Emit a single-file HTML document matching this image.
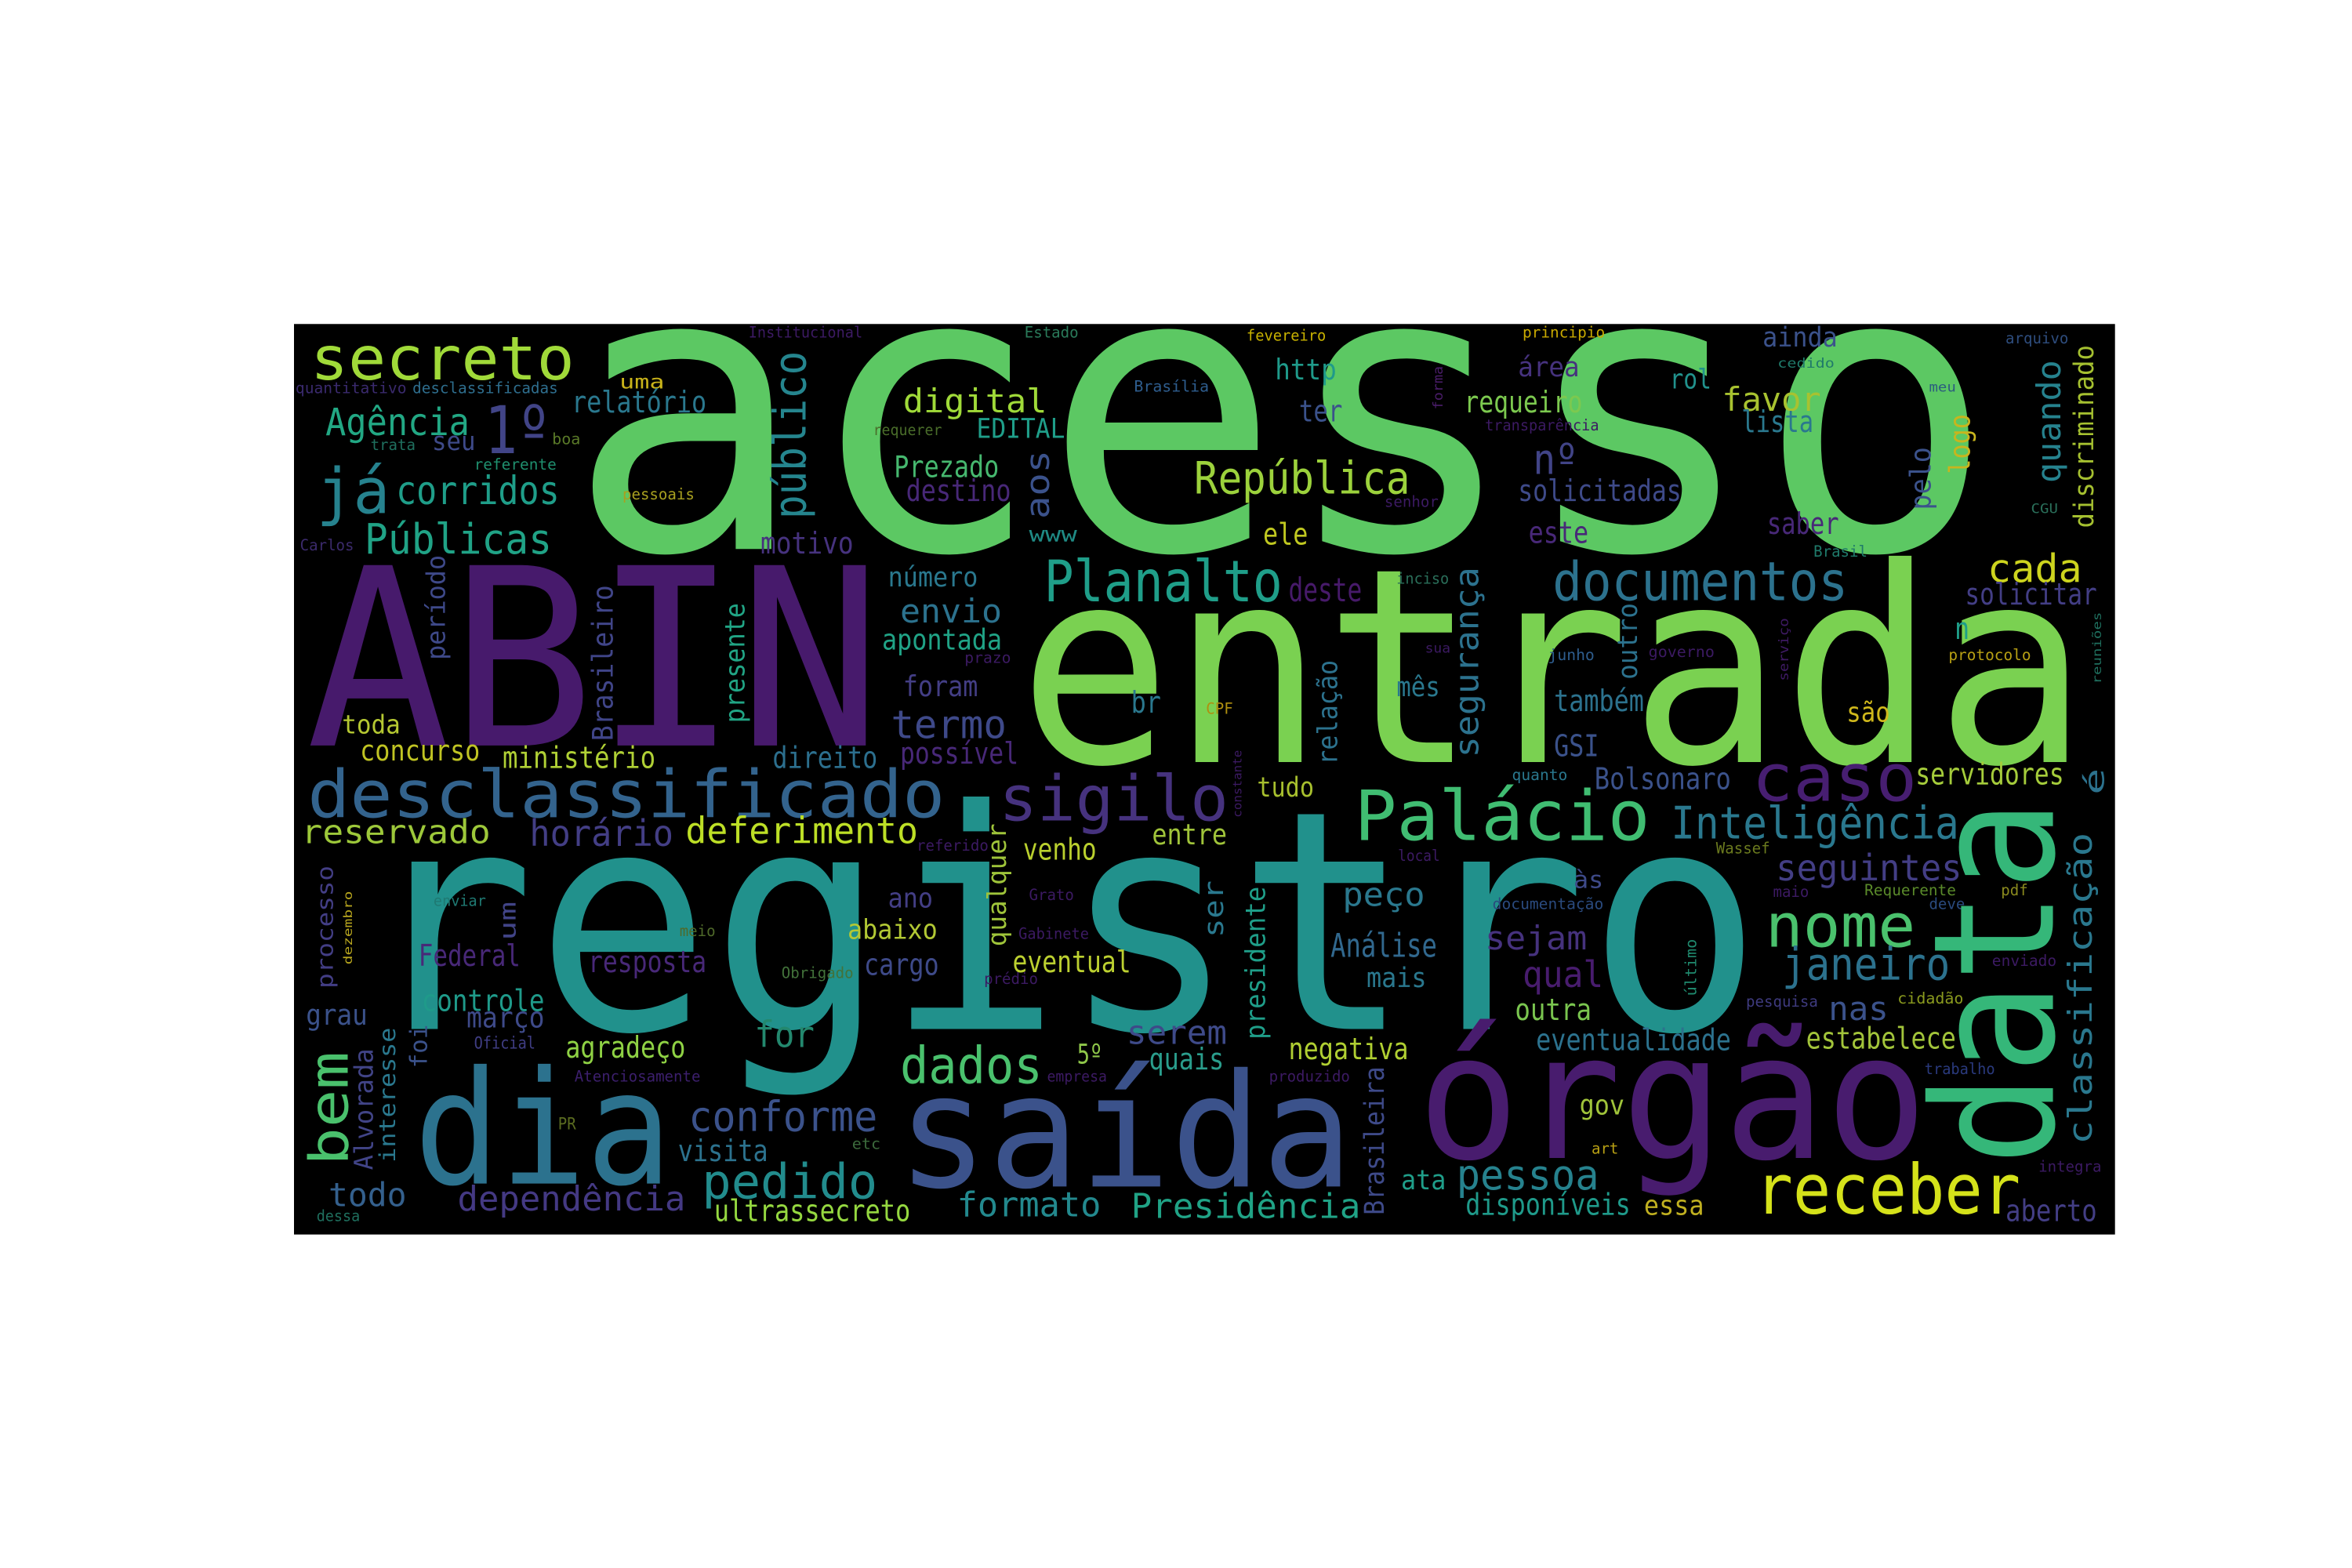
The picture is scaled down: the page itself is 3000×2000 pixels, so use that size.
<!DOCTYPE html>
<html><head><meta charset="utf-8">
<style>
html,body{margin:0;padding:0;background:#fff;}
svg{display:block;}
text{font-family:"DejaVu Sans Mono","Liberation Mono",monospace;}
</style></head>
<body>
<svg id="cloud" width="3000" height="2000" viewBox="0 0 1568 1045.33" xmlns="http://www.w3.org/2000/svg">
<rect x="196" y="216" width="1214" height="607" fill="#000"/>
<g id="words"></g>
</svg>
<script>
// horizontal words: [text, x, baselineY, fontSize, width, color]
const hWords = [
["acesso",378,366,262,952,"#5cc863"],
["ABIN",204,497,165,384,"#471a6c"],
["entrada",679,508,181,713,"#7ad151"],
["registro",240,686,204,935,"#21918c"],
["órgão",945,772,116,340,"#481c6e"],
["dia",276,789,105,172,"#2c728e"],
["saída",598,791,105,304,"#3b528b"],
["secreto",207,253,40,176,"#a0da39"],
["quantitativo",197,262,10,74,"#3a2a6e"],
["desclassificadas",275,262,10,97,"#2e6e8e"],
["uma",413,259,13,30,"#c8b31a"],
["1º",323,302,44,44,"#414487"],
["relatório",381,275,20,90,"#2a788e"],
["Agência",217,290,25,96,"#22a884"],
["seu",288,300,17,29,"#3e4a89"],
["boa",368,296,10,19,"#5a7a28"],
["trata",247,300,10,30,"#1f6f5e"],
["referente",316,313,10,55,"#1f8f6e"],
["já",211,342,42,49,"#26828e"],
["corridos",264,336,26,109,"#1f9e89"],
["pessoais",415,333,10,48,"#a8a020"],
["Públicas",243,369,28,125,"#20a386"],
["Carlos",200,367,10,36,"#3b2a6b"],
["motivo",507,369,20,62,"#46327e"],
["toda",228,489,17,39,"#b5c832"],
["concurso",240,507,19,80,"#c0c423"],
["ministério",335,512,20,102,"#b0d035"],
["direito",515,512,20,70,"#2c6f8e"],
["Institucional",499,225,10,76,"#3c1a63"],
["desclassificado",205,545,44,425,"#33638d"],
["reservado",201,562,22,126,"#9dc83a"],
["horário",353,564,24,96,"#433e85"],
["deferimento",457,562,24,155,"#bddf26"],
["enviar",289,604,10,35,"#1f7a73"],
["meio",453,624,10,24,"#4f6a2a"],
["Federal",279,644,20,68,"#482878"],
["resposta",392,648,20,79,"#482878"],
["abaixo",565,626,18,60,"#b2c834"],
["Obrigado",521,652,10,48,"#42723a"],
["cargo",576,650,20,50,"#3e4a89"],
["controle",281,674,20,82,"#1f9a8a"],
["grau",204,683,19,41,"#3b528b"],
["março",311,685,19,52,"#3e4a89"],
["for",503,698,24,40,"#23886e"],
["Oficial",316,699,11,41,"#3f3d83"],
["agradeço",377,705,20,80,"#8fd244"],
["Atenciosamente",383,721,10,84,"#3c1f6d"],
["conforme",459,754,28,126,"#3b528b"],
["PR",372,753,11,12,"#5a6b20"],
["etc",568,766,10,19,"#3c6a3c"],
["visita",452,774,20,60,"#2c728e"],
["pedido",468,799,32,117,"#228c8d"],
["todo",219,804,22,52,"#34608d"],
["dependência",305,807,23,152,"#443983"],
["ultrassecreto",476,814,20,131,"#95d840"],
["dessa",211,814,10,29,"#1f6f5e"],
["Estado",683,225,10,36,"#2a7a5a"],
["fevereiro",831,227,10,53,"#c8b200"],
["http",850,253,19,41,"#1f9a8a"],
["Brasília",756,261,10,50,"#2e5d8e"],
["digital",602,275,22,96,"#a0da39"],
["ter",866,281,20,29,"#3b528b"],
["requerer",582,290,10,46,"#4a6d2a"],
["EDITAL",651,292,18,59,"#1f9e89"],
["Prezado",596,318,20,70,"#46b86f"],
["República",796,329,30,144,"#9cd23c"],
["destino",604,334,20,70,"#482878"],
["senhor",923,338,10,36,"#3c1a63"],
["www",686,361,14,32,"#1f8a84"],
["ele",842,363,20,30,"#c0c820"],
["número",592,391,18,60,"#2a788e"],
["Planalto",696,401,38,159,"#1f9e89"],
["deste",859,401,22,49,"#471a6a"],
["inciso",931,389,10,35,"#2a6f5a"],
["envio",600,415,22,68,"#2c728e"],
["apontada",588,433,19,80,"#20a386"],
["prazo",643,442,10,31,"#3c1a63"],
["foram",602,464,19,50,"#433e85"],
["termo",594,492,26,77,"#3e4989"],
["possível",600,509,20,79,"#482878"],
["br",754,475,20,20,"#2a788e"],
["CPF",804,476,10,18,"#b08f10"],
["mês",931,464,18,29,"#2a788e"],
["sua",950,435,9,17,"#3c1a63"],
["tudo",838,531,18,38,"#a7bf2e"],
["principio",1015,225,10,55,"#c8a800"],
["ainda",1175,231,18,50,"#3b528b"],
["arquivo",1337,229,10,42,"#2e4d7e"],
["área",1012,251,18,41,"#46327e"],
["cedido",1185,245,9,38,"#1f7a6a"],
["rol",1113,259,18,28,"#21918c"],
["favor",1148,274,22,66,"#a8c230"],
["meu",1286,261,9,18,"#2b5d7e"],
["requeiro",976,275,20,79,"#7cc94f"],
["lista",1161,288,20,48,"#2a788e"],
["transparência",990,287,10,76,"#3c1a63"],
["nº",1022,316,28,30,"#414487"],
["solicitadas",1012,334,20,109,"#3e4a89"],
["CGU",1354,342,9,18,"#2a6f5a"],
["saber",1178,356,20,48,"#482878"],
["este",1019,362,20,40,"#482878"],
["Brasil",1209,371,10,36,"#1f7a6a"],
["cada",1325,388,26,63,"#cdd41e"],
["documentos",1035,400,36,197,"#2c728e"],
["solicitar",1310,403,20,88,"#433e85"],
["n",1303,426,20,10,"#1f9e89"],
["junho",1032,440,10,31,"#2e5d8e"],
["governo",1099,438,10,44,"#3c1a63"],
["protocolo",1299,440,10,55,"#b8a014"],
["também",1036,474,20,60,"#2c728e"],
["são",1231,481,18,29,"#d0b81c"],
["GSI",1036,504,20,30,"#3b528b"],
["quanto",1008,520,10,37,"#2a788e"],
["Bolsonaro",1063,526,20,91,"#3b528b"],
["caso",1168,534,44,110,"#471e71"],
["servidores",1277,523,20,99,"#a5cc3b"],
["sigilo",666,547,42,153,"#46327e"],
["entre",768,563,19,50,"#a0c43a"],
["referido",611,567,10,48,"#3c1a63"],
["venho",682,573,20,49,"#bad02e"],
["local",932,574,10,28,"#3c1a63"],
["ano",592,605,18,30,"#433e85"],
["Grato",686,600,10,30,"#3c1a63"],
["peço",895,604,22,55,"#2a788e"],
["Gabinete",679,626,10,47,"#3c1a63"],
["Análise",887,638,22,71,"#31688e"],
["eventual",675,648,20,79,"#bcd030"],
["prédio",656,656,10,36,"#3c1a63"],
["mais",911,658,18,40,"#2a788e"],
["serem",751,696,22,67,"#3e4a89"],
["negativa",859,706,20,80,"#b0cf32"],
["5º",718,709,18,17,"#8fc74a"],
["dados",600,722,34,95,"#4ac16d"],
["quais",766,713,20,50,"#2a9d8c"],
["empresa",698,721,10,40,"#3c1a63"],
["produzido",846,721,10,54,"#3c1a63"],
["ata",934,793,18,30,"#1f9e89"],
["formato",638,811,23,96,"#23898e"],
["Presidência",754,812,23,153,"#20a386"],
["Palácio",903,560,46,197,"#40bd72"],
["Inteligência",1114,559,30,192,"#2a788e"],
["Wassef",1144,569,10,36,"#6b7a1e"],
["às",1049,592,16,20,"#3e4a89"],
["seguintes",1184,587,24,124,"#433e85"],
["maio",1182,598,10,24,"#3c1a63"],
["Requerente",1243,597,10,61,"#5a8a2a"],
["pdf",1334,597,10,18,"#8a8a1e"],
["documentação",995,606,10,74,"#2a4a7e"],
["deve",1286,606,10,24,"#2a4a7e"],
["nome",1177,631,40,100,"#4ac16d"],
["sejam",990,633,22,68,"#46327e"],
["janeiro",1188,653,30,112,"#2c728e"],
["enviado",1328,644,10,43,"#3c1a63"],
["qual",1015,658,24,54,"#481c6e"],
["cidadão",1265,669,10,44,"#8a9a1e"],
["pesquisa",1164,671,10,48,"#3e3a7e"],
["outra",1010,680,20,51,"#7ac54f"],
["nas",1219,680,22,40,"#3b528b"],
["eventualidade",1024,700,20,130,"#2c728e"],
["estabelece",1204,699,20,100,"#a2c43a"],
["trabalho",1283,716,10,47,"#2a3a7e"],
["gov",1053,743,18,30,"#a0c43a"],
["art",1061,769,10,18,"#b8a014"],
["integra",1359,781,10,42,"#3c1a63"],
["pessoa",971,793,28,95,"#26828e"],
["receber",1170,809,46,177,"#d5e21a"],
["disponíveis",977,810,20,110,"#1f9a8a"],
["essa",1096,810,18,40,"#c0b020"],
["aberto",1337,814,20,61,"#433e85"]
];
// vertical words (read bottom-to-top): [text, rightEdgeX, bottomY, topY, fontSize, color]
const vWords = [
["público",543,346,234,30,"#25858e"],
["período",300,440,370,17,"#3e4989"],
["Brasileiro",409,494,390,19,"#404588"],
["presente",500,482,402,18,"#21a585"],
["processo",225,659,577,15,"#433e85"],
["dezembro",235,643,594,8,"#b8a61e"],
["um",344,627,601,15,"#414487"],
["foi",285,712,683,16,"#3b528b"],
["bem",233,777,701,36,"#4ac16d"],
["Alvorada",249,780,699,17,"#414487"],
["interesse",264,775,685,15,"#2a788e"],
["aos",700,346,300,22,"#3b528b"],
["forma",962,273,244,9,"#4b1d6b"],
["relação",895,510,440,18,"#2c728e"],
["segurança",990,505,378,22,"#2c728e"],
["constante",828,545,500,8,"#3c1a63"],
["quando",1378,322,240,22,"#26828e"],
["discriminado",1396,352,230,18,"#a5c030"],
["logo",1317,316,276,19,"#c8b51e"],
["pelo",1291,340,298,19,"#3b528b"],
["outro",1092,453,402,18,"#2c728e"],
["serviço",1194,454,412,9,"#3e1a63"],
["reuniões",1401,456,408,8,"#1f6f5e"],
["é",1403,530,512,18,"#2c728e"],
["qualquer",674,631,549,17,"#9fc43a"],
["ser",816,625,587,18,"#2a788e"],
["presidente",847,693,591,18,"#1f9e89"],
["Brasileira",923,810,711,18,"#3e4a89"],
["data",1372,777,533,112,"#35b779"],
["classificação",1399,763,555,22,"#2a788e"],
["último",1131,664,626,10,"#1f8a6e"]
];
const NS = "http://www.w3.org/2000/svg";
const g = document.getElementById("words");
function slug(s){return s.normalize("NFD").replace(/[\u0300-\u036f]/g,"").replace(/[^A-Za-z0-9]+/g,"-").toLowerCase();}
hWords.forEach(w => {
  const t = document.createElementNS(NS,"text");
  t.setAttribute("x", w[1]);
  t.setAttribute("y", w[2]);
  t.setAttribute("font-size", w[3]);
  t.setAttribute("textLength", w[4]);
  t.setAttribute("lengthAdjust", "spacingAndGlyphs");
  t.setAttribute("fill", w[5]);
  
  
  t.textContent = w[0];
  g.appendChild(t);
});
vWords.forEach(w => {
  const t = document.createElementNS(NS,"text");
  const desc = /[gjpqyç]/.test(w[0]) ? 0.2 : 0.03;
  const bx = w[1] - desc * w[4];
  const by = w[2];
  t.setAttribute("x", bx);
  t.setAttribute("y", by);
  t.setAttribute("transform", "rotate(-90 " + bx + " " + by + ")");
  t.setAttribute("font-size", w[4]);
  t.setAttribute("textLength", w[2] - w[3]);
  t.setAttribute("lengthAdjust", "spacingAndGlyphs");
  t.setAttribute("fill", w[5]);
  
  
  t.textContent = w[0];
  g.appendChild(t);
});
</script>
</body></html>
